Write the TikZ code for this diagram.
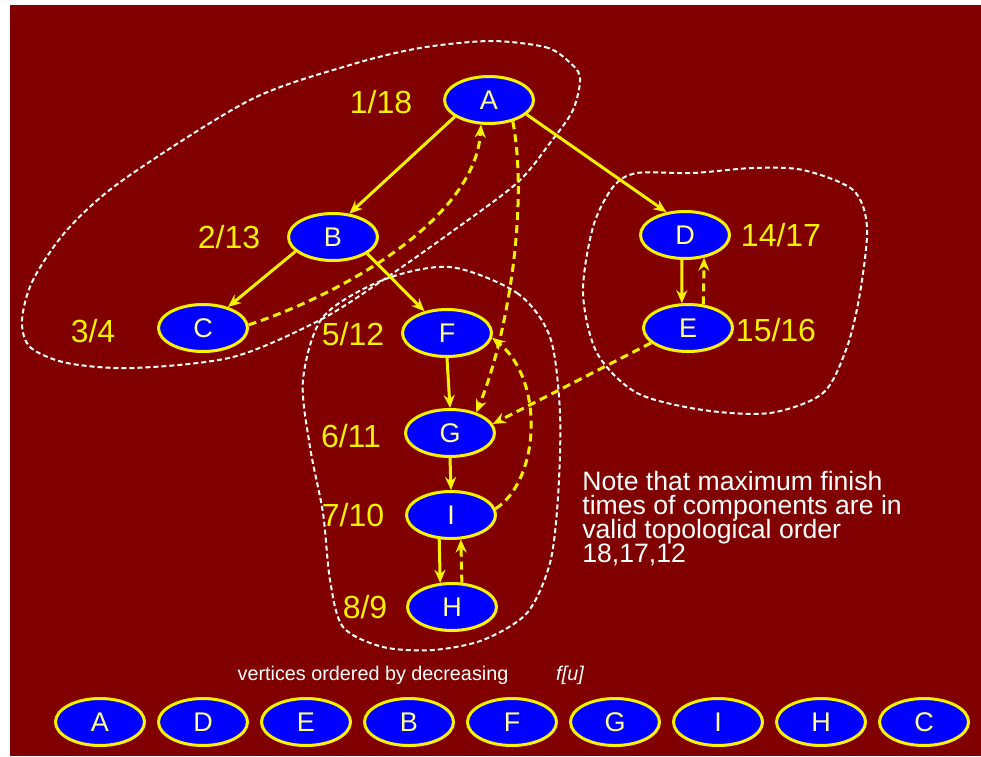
\documentclass[tikz,border=0pt]{standalone}
\usepackage{fontspec}
\setmainfont{Liberation Sans}
\usepackage{xcolor}
\usepackage{tikz}
\usetikzlibrary{arrows.meta,shapes.geometric}

\definecolor{bgred}{RGB}{128,0,0}
\definecolor{vtxblue}{RGB}{0,0,255}
\definecolor{vtxtext}{RGB}{255,255,150}

\newcommand\notefont{\fontsize{13.3}{12}\selectfont
  \setlength{\lineskip}{0pt}\setlength{\lineskiplimit}{-20pt}}

\tikzset{
  vtx/.style={ellipse,draw=yellow,line width=1.5pt,fill=vtxblue,text=vtxtext,
    minimum width=44.5pt,minimum height=23.5pt,inner sep=0pt,
    font=\fontsize{13.5}{14}\selectfont},
  ftime/.style={text=yellow,font=\fontsize{16}{17}\selectfont},
  tree/.style={draw=yellow,line width=1.5pt,-{Stealth[length=6.5pt,width=5.5pt]}},
  back/.style={tree,dash pattern=on 4pt off 2.5pt},
  scc/.style={draw=white,line width=1pt,dash pattern=on 2.5pt off 1.5pt},
}

\begin{document}
\begin{tikzpicture}[x=0.5pt,y=-0.5pt]
  \useasboundingbox (0,0) rectangle (981,756);
  \fill[bgred] (10,5) rectangle (981,756);

  % strongly connected components
  \draw[scc] plot[smooth cycle] coordinates {(490,41) (545,47) (567,60) (580,77)
    (573,110) (550,143) (517,183) (450,233) (383,280) (320,320) (233,357)
    (133,368) (67,363) (30,347) (22,320) (33,280) (67,230) (123,180) (250,100)
    (350,65) (420,48)};
  \draw[scc] plot[smooth cycle] coordinates {(637,173) (693,173) (753,168)
    (803,170) (853,190) (867,227) (860,293) (847,347) (823,393) (770,413)
    (703,410) (637,393) (597,353) (583,293) (593,227) (613,187)};
  \draw[scc] plot[smooth cycle] coordinates {(450,267) (517,293) (550,337)
    (560,413) (558,497) (550,563) (527,613) (483,640) (433,650) (383,647)
    (343,627) (330,580) (323,513) (310,447) (303,380) (323,317) (383,280)};

  % vertices
  \node[vtx] (A) at (489,100) {A};
  \node[vtx] (B) at (333,237) {B};
  \node[vtx] (C) at (203,328) {C};
  \node[vtx] (F) at (447,333) {F};
  \node[vtx] (D) at (685,235) {D};
  \node[vtx] (E) at (688,328) {E};
  \node[vtx] (G) at (450,433) {G};
  \node[vtx] (I) at (451,515) {I};
  \node[vtx] (H) at (452,607) {H};

  % discovery/finish times
  \node[ftime] (tA) at (381,102) {1/18};
  \node[ftime] (tB) at (229,237) {2/13};
  \node[ftime] (tC) at (93,331) {3/4};
  \node[ftime] (tF) at (353,334) {5/12};
  \node[ftime] (tD) at (781,235) {14/17};
  \node[ftime] (tE) at (776,330) {15/16};
  \node[ftime] (tG) at (351,436) {6/11};
  \node[ftime] (tI) at (353,515) {7/10};
  \node[ftime] (tH) at (365,607) {8/9};

  % tree edges
  \draw[tree] (A.206) -- (B.55);
  \draw[tree] (A.339) -- (D.129);
  \draw[tree] (B.201) -- (C.40);
  \draw[tree] (B.334) -- (F.136);
  \draw[tree] (F.south) -- (G.north);
  \draw[tree] (G.south) -- (I.north);
  \draw[tree] (I.244) -- (H.116);
  \draw[tree] (D.263) -- (E.104);

  % other edges
  \draw[back] (C.4) .. controls (340,295) and (475,220) .. (A.252);
  \draw[back] (A.318) .. controls (528,200) and (510,330) .. (G.38);
  \draw[back] (I.8) .. controls (540,480) and (545,380) .. (F.354);
  \draw[back] (E.202) -- (G.12);
  \draw[back] (E.57) -- (D.310);
  \draw[back] (H.68) -- (I.292);

  \node[text=white,anchor=north west,inner sep=0pt,align=left,font=\notefont]
        (note) at (582,471)
    {Note that maximum finish\\times of components are in\\valid topological order\\18,17,12};

  % order by finish time
  \node[text=white,font=\fontsize{9.9}{10}\selectfont] (vord) at (373,675)
    {vertices ordered by decreasing};
  \node[text=white,font=\fontsize{9.9}{10}\selectfont\itshape] (fu) at (570,675) {f[u]};
  \foreach \v [count=\i from 0] in {A,D,E,B,F,G,I,H,C}
    \node[vtx] (o\v) at ({100+103*\i},722) {\v};
\end{tikzpicture}
\end{document}
